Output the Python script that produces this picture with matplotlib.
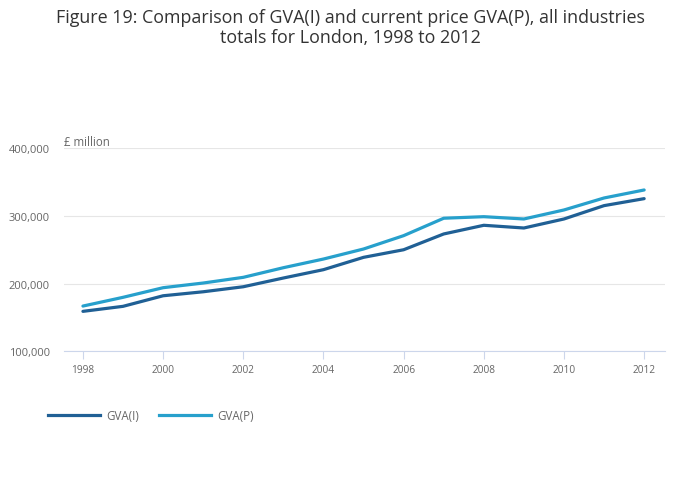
import matplotlib
matplotlib.use("Agg")
import matplotlib.pyplot as plt
from matplotlib.lines import Line2D

plt.rcParams["font.family"] = ["Open Sans", "DejaVu Sans"]

years = list(range(1998, 2013))
gva_i = [159100, 166500, 182100, 188000, 195400, 208300, 220600, 238800,
         250000, 273300, 286100, 282100, 295400, 315100, 325400]
gva_p = [166900, 179800, 194000, 200900, 209300, 223500, 236300, 251100,
         270800, 296500, 298800, 295400, 308700, 326400, 338200]
y_ticks = [100000, 200000, 300000, 400000]
x_ticks = list(range(1998, 2013, 2))

dark = "#206095"
light = "#27a0cc"
grey = "#666666"

fig = plt.figure(figsize=(7.0, 5.02), dpi=100)
ax = fig.add_axes([0.091, 0.298, 0.859, 0.405])

ax.plot(years, gva_i, color=dark, linewidth=2.3, solid_capstyle="round", zorder=3)
ax.plot(years, gva_p, color=light, linewidth=2.3, solid_capstyle="round", zorder=3)

ax.set_xlim(1997.52, 2012.52)
ax.set_ylim(100000, 400000)
ax.set_yticks(y_ticks)
ax.set_yticklabels([f"{v:,}" for v in y_ticks])
ax.set_xticks(x_ticks)
ax.set_xticklabels([str(x) for x in x_ticks])

ax.grid(axis="y", color="#e6e6e6", linewidth=0.8)
ax.set_axisbelow(True)
for side in ("top", "right", "left"):
    ax.spines[side].set_visible(False)
ax.spines["bottom"].set_color("#ccd6eb")
ax.spines["bottom"].set_linewidth(0.8)
ax.tick_params(axis="y", length=0, pad=10, labelsize=8, labelcolor=grey)
ax.tick_params(axis="x", length=6, width=0.8, color="#ccd6eb", pad=3,
               labelsize=7.3, labelcolor=grey)

ax.text(0.0, 1.0, "£ million", transform=ax.transAxes, fontsize=8.3,
        color=grey, ha="left", va="bottom")

fig.text(0.5, 0.982, "Figure 19: Comparison of GVA(I) and current price GVA(P), all industries\n"
         "totals for London, 1998 to 2012", ha="center", va="top",
         fontsize=12.9, color="#333333", linespacing=1.15)

handles = [Line2D([], [], color=dark, linewidth=2.3),
           Line2D([], [], color=light, linewidth=2.3)]
fig.legend(handles, ["GVA(I)", "GVA(P)"], loc="center left",
           bbox_to_anchor=(0.054, 0.17), ncol=2, frameon=False, fontsize=8.3,
           labelcolor=grey, handlelength=4.5, handletextpad=0.5,
           columnspacing=1.8)

fig.savefig("out.png", dpi=100)
